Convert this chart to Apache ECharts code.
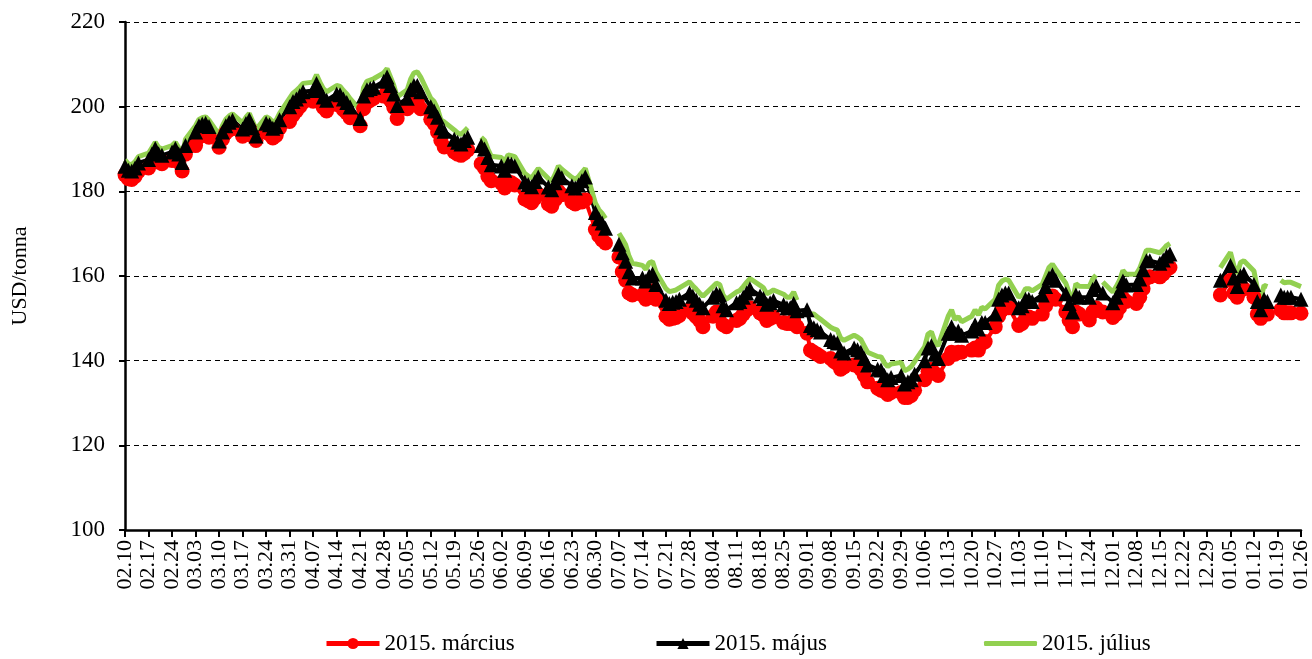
<!DOCTYPE html>
<html>
<head>
<meta charset="utf-8">
<script src="https://cdn.jsdelivr.net/npm/echarts@6/dist/echarts.min.js"></script>
<style>
  html, body { margin: 0; padding: 0; background: #fff; }
  #chart { width: 1312px; height: 659px; }
</style>
</head>
<body>
<div id="chart"></div>
<script>
// trading days, Mon 2014.02.10 .. Mon 2015.01.26 (5 values per week, null = no quote)
const startDate = [2014, 1, 10]
const seriesNames = ['2015. március', '2015. május', '2015. július']

const march = [
  183.9, 183.0, 182.8, 183.5, 184.7,
  185.5, 186.8, 188.1, 186.9, 186.5,
  187.3, 188.1, 186.8, 184.8, 188.8,
  190.8, 192.8, 193.5, 193.8, 192.8,
  190.4, 192.3, 193.8, 194.5, 194.8,
  193.0, 194.0, 194.8, 193.0, 192.0,
  194.0, 193.5, 192.6, 193.2, 194.9,
  196.5, 198.0, 199.0, 200.0, 201.0,
  201.3, 203.0, 201.3, 199.8, 199.0,
  200.5, 200.3, 199.3, 198.5, 197.4,
  195.5, 199.5, 201.0, 201.5, 202.0,
  202.5, 203.5, 201.5, 199.8, 197.2,
  199.5, 200.5, 201.0, 201.0, 199.5,
  197.0, 196.0, 194.0, 192.0, 190.5,
  189.3, 188.8, 188.5, 189.0, 189.8,
  null, 186.5, 185.5, 183.5, 182.5,
  182.0, 180.8, 182.3, 182.0, 181.5,
  178.2, 177.8, 177.3, 178.3, 179.3,
  177.0, 176.5, 178.0, 180.0, 179.2,
  177.5, 177.0, 177.5, 177.5, 178.0,
  171.0, 169.5, 168.5, 167.8, null,
  164.5, 161.0, 159.0, 156.0, 155.5,
  155.5, 154.5, 156.0, 156.5, 154.5,
  150.5, 149.8, 150.0, 150.2, 150.7,
  152.0, 151.2, 150.4, 149.5, 148.0,
  150.5, 151.5, 151.0, 148.5, 148.0,
  149.5, 150.0, 151.0, 152.0, 152.5,
  151.3, 150.8, 149.5, 150.0, 150.3,
  149.0, 148.8, 148.8, 149.5, 148.0,
  146.5, 142.5, 142.0, 141.5, 141.0,
  140.5, 139.8, 139.3, 138.0, 138.5,
  139.0, 138.8, 138.0, 136.5, 135.0,
  133.5, 133.0, 132.7, 132.0, 132.5,
  132.5, 131.3, 131.3, 131.8, 133.0,
  135.5, 137.5, 138.0, 137.0, 136.5,
  140.5, 142.0, 141.5, 142.0, 142.0,
  142.5, 143.0, 142.5, 144.0, 144.5,
  148.0, 150.5, 152.0, 152.5, 152.5,
  148.3, 148.8, 150.0, 150.3, 150.0,
  151.0, 153.0, 154.5, 155.3, 154.5,
  151.5, 149.5, 148.0, 151.5, 151.0,
  149.6, 151.5, 152.5, null, 151.5,
  150.2, 151.0, 152.5, 154.8, 154.0,
  153.5, 155.0, 157.0, 159.5, 159.8,
  159.8, 160.5, 161.5, 162.0, null,
  null, null, null, null, null,
  null, null, null, null, 155.5,
  159.0, 156.0, 155.0, 156.5, 157.0,
  155.0, 151.0, 150.0, 151.5, 151.0,
  null, 152.0, 151.3, 151.3, 151.3,
  151.2
]

const may = [
  185.9, 185.0, 184.8, 185.5, 186.7,
  187.5, 188.8, 190.1, 188.9, 188.5,
  189.3, 190.1, 188.8, 186.8, 190.8,
  194.0, 195.5, 195.9, 196.1, 195.3,
  191.9, 194.0, 195.5, 196.3, 196.8,
  194.7, 196.0, 196.9, 195.0, 193.1,
  196.1, 195.7, 194.9, 195.3, 196.9,
  200.0, 201.2, 201.8, 202.6, 203.5,
  203.8, 205.5, 203.8, 202.3, 201.5,
  203.0, 202.8, 201.8, 201.0, 199.9,
  197.2, 202.5, 204.0, 204.3, 204.6,
  206.0, 207.0, 205.0, 203.0, 200.3,
  202.0, 204.0, 205.0, 205.0, 203.5,
  200.0, 199.0, 197.5, 195.0, 194.2,
  192.3, 191.6, 191.2, 192.0, 192.8,
  null, 190.8, 190.0, 188.0, 186.3,
  186.0, 185.0, 186.6, 186.4, 186.0,
  182.2, 181.6, 181.1, 182.3, 183.4,
  181.0, 180.4, 182.0, 184.0, 183.2,
  181.3, 180.8, 181.5, 182.5, 183.4,
  175.0, 173.5, 172.5, 171.3, null,
  167.5, 165.5, 163.5, 161.0, 159.5,
  159.5, 158.8, 160.0, 160.5, 158.0,
  154.3, 153.5, 153.8, 154.0, 154.5,
  156.0, 155.2, 154.3, 153.3, 152.5,
  155.0, 155.8, 155.5, 153.0, 152.0,
  153.7, 154.0, 155.0, 156.0, 157.0,
  155.3, 154.7, 153.3, 153.7, 154.2,
  153.2, 152.5, 152.5, 153.5, 151.8,
  152.0, 148.3, 147.8, 147.3, 146.8,
  145.0, 144.5, 144.2, 142.3, 141.8,
  143.0, 142.6, 142.0, 140.5, 139.0,
  138.0, 137.8, 136.5, 135.5, 136.0,
  136.5, 134.5, 135.0, 135.5, 136.8,
  140.0, 143.0, 143.5, 141.5, 140.5,
  146.5, 148.0, 146.5, 147.0, 146.0,
  147.0, 148.5, 147.5, 149.0, 149.0,
  151.0, 154.5, 155.5, 156.0, 156.0,
  152.5, 153.0, 154.5, 154.5, 154.0,
  155.5, 157.5, 159.5, 160.3, 159.0,
  155.8, 153.5, 151.5, 155.5, 155.0,
  155.0, 156.8, 157.7, null, 156.0,
  153.7, 155.0, 156.5, 158.8, 157.9,
  158.0, 159.3, 161.5, 163.6, 163.6,
  163.0, 163.8, 164.7, 165.2, null,
  null, null, null, null, null,
  null, null, null, null, 159.0,
  162.5, 159.5, 157.5, 160.0, 160.5,
  158.0, 154.0, 152.0, 154.5, 154.0,
  null, 155.5, 155.0, 155.0, 155.0,
  154.5
]

const july = [
  187.4, 186.5, 186.3, 187.0, 188.2,
  189.0, 190.3, 191.6, 190.4, 190.0,
  190.8, 191.6, 190.3, 188.3, 192.3,
  195.5, 197.0, 197.4, 197.6, 196.8,
  193.4, 195.5, 197.0, 197.8, 198.3,
  196.2, 197.5, 198.4, 196.5, 194.6,
  197.6, 197.2, 196.4, 196.8, 198.4,
  202.0, 203.2, 203.8, 204.6, 205.5,
  205.8, 207.5, 205.8, 204.3, 203.5,
  205.0, 204.8, 203.8, 203.0, 201.9,
  199.2, 204.5, 206.0, 206.3, 206.6,
  208.0, 209.0, 207.0, 205.0, 202.3,
  204.0, 206.5, 208.0, 208.2, 207.0,
  202.0, 201.2, 199.6, 196.9, 196.4,
  194.5, 193.8, 193.4, 194.2, 195.0,
  null, 192.8, 192.0, 190.0, 188.3,
  188.0, 187.0, 188.6, 188.4, 188.2,
  184.2, 183.6, 183.1, 184.3, 185.4,
  183.0, 182.4, 184.0, 186.0, 185.2,
  183.3, 182.8, 183.5, 184.5, 185.4,
  177.2, 175.7, 174.8, 173.6, null,
  170.1, 168.8, 167.4, 164.7, 163.0,
  162.5, 161.6, 163.1, 163.4, 161.0,
  157.0, 156.3, 156.5, 156.7, 157.2,
  158.6, 157.7, 156.9, 156.0, 155.2,
  157.5, 158.3, 158.0, 155.5, 154.5,
  156.2, 156.6, 157.5, 158.5, 159.4,
  157.8, 157.2, 155.8, 156.2, 156.7,
  155.7, 155.0, 155.0, 156.2, 154.3,
  null, 151.0, 151.0, 150.4, 149.8,
  147.9, 147.5, 147.2, 145.3, 144.8,
  146.0, 145.6, 145.0, 143.5, 142.0,
  141.0, 140.9, 139.5, 138.6, 139.2,
  139.6, 137.6, 138.0, 138.6, 139.8,
  143.3, 146.3, 146.8, 144.5, 143.5,
  150.5, 152.0, 149.7, 150.4, 149.2,
  150.5, 152.0, 150.8, 152.6, 152.2,
  154.5, 157.8, 158.8, 159.2, 159.0,
  155.0, 155.5, 157.0, 157.0, 156.5,
  158.0, 160.0, 162.0, 162.8, 161.6,
  158.3, 156.0, 154.0, 158.2, 157.6,
  157.5, 159.3, 160.2, null, 158.6,
  156.2, 157.5, 159.0, 161.3, 160.4,
  160.5, 161.8, 164.0, 166.1, 166.1,
  165.5, 166.3, 167.2, 167.7, null,
  null, null, null, null, null,
  null, null, null, null, 162.0,
  165.6, 162.5, 160.5, 163.2, 163.6,
  161.2, 157.0, 154.5, 157.8, 157.5,
  null, 159.0, 158.4, 158.5, 158.5,
  157.5
]

// axes: days counted from 02.10, one tick per week
const xMax = 350
const xStep = 7
const yMin = 100
const yMax = 220
const yStep = 20

const pad = n => (n < 10 ? '0' : '') + n
const dayLabel = v => {
  const d = new Date(startDate[0], startDate[1], startDate[2] + v)
  return pad(d.getMonth() + 1) + '.' + pad(d.getDate())
}
// weekday index -> calendar day offset
const toPoints = arr => arr.map((v, i) => [Math.floor(i / 5) * 7 + (i % 5), v])

const font = 'Liberation Serif, Times New Roman, serif'
const red = '#ff0000'
const green = '#92d050'

const chart = echarts.init(document.getElementById('chart'))

const legendAt = (name, left, extra) => Object.assign({
  data: [name],
  left: left,
  top: 632,
  padding: 0,
  itemWidth: 53,
  itemHeight: 14,
  lineStyle: { width: 5 },
  textStyle: { fontFamily: font, fontSize: 23, color: '#000' }
}, extra || {})

chart.setOption({
  animation: false,
  backgroundColor: '#fff',
  grid: { left: 125, right: 7, top: 22, bottom: 129, containLabel: false },
  legend: [
    legendAt(seriesNames[0], 324),
    legendAt(seriesNames[1], 654),
    legendAt(seriesNames[2], 984, {
      data: [{ name: seriesNames[2], icon: 'roundRect' }],
      itemHeight: 5,
      itemStyle: { color: green, borderWidth: 0 }
    })
  ],
  xAxis: {
    type: 'value',
    min: 0,
    max: xMax,
    interval: xStep,
    axisLine: { show: true, onZero: false, lineStyle: { color: '#000', width: 2.5 } },
    axisTick: { show: true, length: 7, lineStyle: { color: '#000', width: 2 } },
    axisLabel: {
      rotate: 90,
      margin: 10,
      fontFamily: font,
      fontSize: 22,
      color: '#000',
      formatter: dayLabel
    },
    splitLine: { show: false }
  },
  yAxis: {
    type: 'value',
    min: yMin,
    max: yMax,
    interval: yStep,
    name: 'USD/tonna',
    nameLocation: 'middle',
    nameGap: 94,
    nameRotate: 90,
    nameTextStyle: { fontFamily: font, fontSize: 22, color: '#000' },
    axisLine: { show: true, lineStyle: { color: '#000', width: 2.5 } },
    axisTick: { show: true, length: 6, lineStyle: { color: '#000', width: 2 } },
    axisLabel: { margin: 20, fontFamily: font, fontSize: 23, color: '#000' },
    splitLine: { show: true, lineStyle: { color: '#000', width: 1, type: [5, 4] } }
  },
  series: [
    {
      name: seriesNames[0],
      type: 'line',
      data: toPoints(march),
      symbol: 'circle',
      symbolSize: 15,
      showAllSymbol: true,
      itemStyle: { color: red },
      lineStyle: { color: red, width: 4 },
      emphasis: { disabled: true }
    },
    {
      name: seriesNames[1],
      type: 'line',
      data: toPoints(may),
      symbol: 'triangle',
      symbolSize: 15,
      showAllSymbol: true,
      itemStyle: { color: '#000' },
      lineStyle: { color: '#000', width: 4 },
      emphasis: { disabled: true }
    },
    {
      name: seriesNames[2],
      type: 'line',
      data: toPoints(july),
      symbol: 'none',
      itemStyle: { color: green },
      lineStyle: { color: green, width: 5 },
      emphasis: { disabled: true }
    }
  ]
})
</script>
</body>
</html>
